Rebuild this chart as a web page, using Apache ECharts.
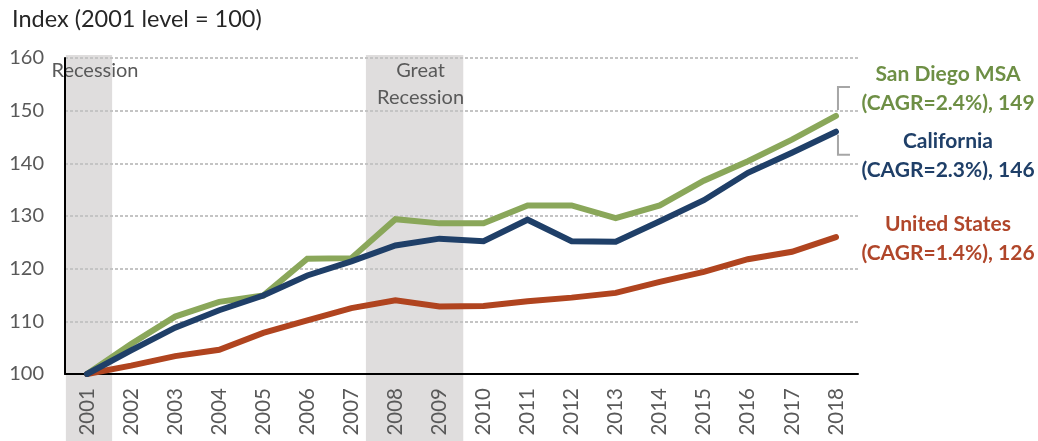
<!DOCTYPE html>
<html>
<head>
<meta charset="utf-8">
<script src="https://cdn.jsdelivr.net/npm/echarts@6/dist/echarts.min.js"></script>
<style>
  html, body { margin: 0; padding: 0; background: #ffffff; }
  #chart { width: 1038px; height: 441px; }
</style>
</head>
<body>
<div id="chart"></div>
<script>
// Employment index, 2001 = 100
const years = ['2001', '2002', '2003', '2004', '2005', '2006', '2007', '2008', '2009',
  '2010', '2011', '2012', '2013', '2014', '2015', '2016', '2017', '2018'];
const sanDiego = [100, 105.7, 110.9, 113.7, 114.9, 121.9, 122.0, 129.4, 128.6,
  128.6, 132.0, 132.0, 129.6, 132.0, 136.7, 140.4, 144.5, 149];
const california = [100, 104.5, 108.8, 112.1, 114.9, 118.7, 121.4, 124.4, 125.7,
  125.2, 129.3, 125.2, 125.1, 129.0, 133.0, 138.2, 142.0, 146];
const unitedStates = [100, 101.6, 103.4, 104.6, 107.8, 110.2, 112.5, 114.0, 112.8,
  112.9, 113.8, 114.5, 115.4, 117.5, 119.4, 121.8, 123.2, 126];

// Recession periods, in category-band units along the year axis
const recessionSpans = [[0.02, 1.07], [6.83, 9.04]];
const recessionNames = ['Recession', 'Great\nRecession'];

const yMin = 100, yMax = 160, yStep = 10;

const FONT = 'Lato, "Open Sans", sans-serif';
const GREEN = '#8aa75a', GREEN_TEXT = '#6e8f45';
const BLUE = '#1f3f68', BLUE_TEXT = '#1f3f68';
const RED = '#b0441f', RED_TEXT = '#b0462a';

function cagr(arr) {
  const n = arr.length - 1;
  return (Math.pow(arr[n] / arr[0], 1 / n) - 1) * 100;
}

function endTag(name, arr, color, offset) {
  const last = arr[arr.length - 1];
  return {
    symbol: 'none',
    data: [{
      coord: [years[years.length - 1], last],
      symbol: 'circle',
      symbolSize: 1,
      itemStyle: { color: 'rgba(0,0,0,0)' },
      label: {
        show: true,
        position: 'inside',
        offset: offset,
        formatter: name + '\n(CAGR=' + cagr(arr).toFixed(1) + '%), ' + last,
        color: color,
        fontFamily: FONT,
        fontWeight: 'bold',
        fontSize: 21,
        lineHeight: 29,
        align: 'center'
      }
    }]
  };
}

function lineSeries(name, arr, color, z) {
  return {
    name: name,
    type: 'line',
    data: arr,
    showSymbol: false,
    symbol: 'none',
    z: z,
    lineStyle: { color: color, width: 6, cap: 'round', join: 'miter' },
    itemStyle: { color: color }
  };
}

const chart = echarts.init(document.getElementById('chart'), null, { renderer: 'canvas' });

const sdSeries = lineSeries('San Diego MSA', sanDiego, GREEN, 2);
sdSeries.markPoint = endTag('San Diego MSA', sanDiego, GREEN_TEXT, [112, -27]);
const caSeries = lineSeries('California', california, BLUE, 4);
caSeries.markPoint = endTag('California', california, BLUE_TEXT, [112, 24.5]);
const usSeries = lineSeries('United States', unitedStates, RED, 3);
usSeries.markPoint = endTag('United States', unitedStates, RED_TEXT, [112, 2]);

chart.setOption({
  animation: false,
  backgroundColor: '#ffffff',
  title: {
    text: 'Index (2001 level = 100)',
    left: 7,
    top: 2,
    padding: 5,
    textStyle: { fontFamily: FONT, fontSize: 23.5, fontWeight: 'normal', color: '#262626' }
  },
  grid: { left: 65, right: 180, top: 58, bottom: 67, containLabel: false },
  xAxis: [{
    type: 'category',
    data: years,
    boundaryGap: true,
    axisLine: { show: true, lineStyle: { color: '#000000', width: 2 } },
    axisTick: { show: false },
    splitLine: { show: false },
    axisLabel: {
      rotate: 90,
      margin: 14,
      interval: 0,
      color: '#595959',
      fontFamily: FONT,
      fontSize: 20.5
    }
  }, {
    type: 'value',
    min: 0,
    max: years.length,
    show: false
  }],
  yAxis: {
    type: 'value',
    min: yMin,
    max: yMax,
    interval: yStep,
    axisLine: { show: true, lineStyle: { color: '#000000', width: 2 } },
    axisTick: { show: false },
    splitLine: { show: true, lineStyle: { color: '#c4c4c4', width: 2, type: [3, 2] } },
    axisLabel: { margin: 21, color: '#595959', fontFamily: FONT, fontSize: 20 }
  },
  series: [
    {
      // shaded recession periods with their captions
      type: 'custom',
      xAxisIndex: 1,
      yAxisIndex: 0,
      z: -1,
      silent: true,
      clip: false,
      data: recessionSpans,
      renderItem: function (params, api) {
        const p0 = api.coord([api.value(0), yMax]);
        const p1 = api.coord([api.value(1), yMax]);
        const top = p0[1] - 3;
        return {
          type: 'group',
          children: [{
            type: 'rect',
            shape: { x: p0[0], y: top, width: p1[0] - p0[0], height: api.getHeight() - top },
            style: { fill: '#dfdddd' }
          }, {
            type: 'text',
            x: (p0[0] + p1[0]) / 2 + 6,
            y: top + 2,
            style: {
              text: recessionNames[params.dataIndex],
              fill: '#595959',
              font: '20px ' + FONT,
              align: 'center',
              verticalAlign: 'top',
              lineHeight: 27
            }
          }]
        };
      }
    },
    {
      // bracket pairing the San Diego and California end values
      type: 'custom',
      xAxisIndex: 0,
      yAxisIndex: 0,
      z: 1,
      silent: true,
      clip: false,
      data: [[years.length - 1, sanDiego[sanDiego.length - 1], california[california.length - 1]]],
      renderItem: function (params, api) {
        const g = api.coord([api.value(0), api.value(1)]);
        const b = api.coord([api.value(0), api.value(2)]);
        const st = { stroke: '#a6a6a6', lineWidth: 2, fill: null };
        return {
          type: 'group',
          children: [{
            type: 'polyline',
            shape: { points: [[g[0] + 14, g[1] - 29], [g[0] + 2, g[1] - 29], [g[0] + 2, g[1] - 6]] },
            style: st
          }, {
            type: 'polyline',
            shape: { points: [[b[0] + 2, b[1] + 3], [b[0] + 2, b[1] + 23], [b[0] + 14, b[1] + 23]] },
            style: st
          }]
        };
      }
    },
    sdSeries,
    usSeries,
    caSeries
  ]
});
</script>
</body>
</html>
